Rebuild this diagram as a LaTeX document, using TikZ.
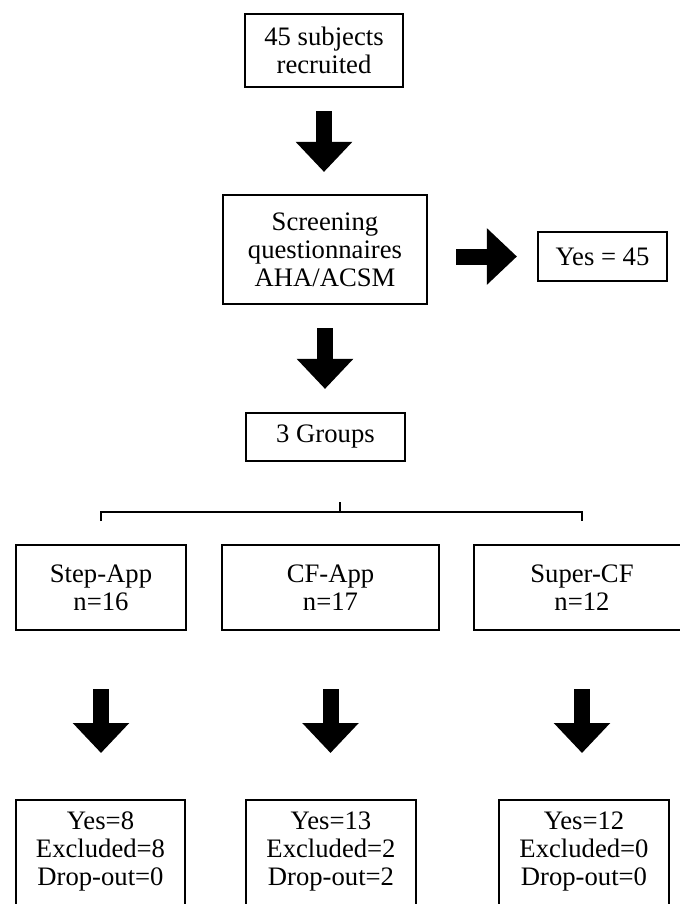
\documentclass[tikz,border=0pt]{standalone}
\usepackage{fontspec}
\setmainfont{Liberation Serif}
\usetikzlibrary{arrows.meta}
\begin{document}
\begin{tikzpicture}[x=0.75pt,y=-0.75pt,
    box/.style={draw, line width=1.6pt, align=center, inner sep=2pt, font=\fontsize{20}{21}\selectfont},
    fatarrow/.style={line width=12pt, -{Triangle[width=41pt,length=22.5pt]}},
    brace/.style={line width=1.1pt}]
    \useasboundingbox (0,0) rectangle (680,904);
    \clip (0,0) rectangle (680,904);
    % recruitment and screening
    \node[box, minimum width=118.5pt, minimum height=54.75pt] (recruit) at (324,50.5) {45 subjects\\recruited};
    \node[box, minimum width=153pt, minimum height=81.75pt] (screen) at (325,249.5) {Screening\\questionnaires\\AHA/ACSM};
    \node[box, minimum width=96.75pt, minimum height=36.75pt] (yes45) at (602.5,256.5) {Yes = 45};
    \node[box, minimum width=119.25pt, minimum height=36pt] (groups) at (325.5,437) {3 Groups};
    \draw[fatarrow, shorten <=17.25pt, shorten >=16.5pt] (recruit.south) -- (recruit.south |- screen.north);
    \draw[fatarrow, shorten <=21pt, shorten >=15pt] (screen.east |- yes45.west) -- (yes45.west);
    \draw[fatarrow, shorten <=17.25pt, shorten >=17.25pt] (screen.south) -- (screen.south |- groups.north);
    % the three groups
    \node[box, minimum width=127.5pt, minimum height=63.75pt] (step) at (101,587.5) {Step-App\\n=16};
    \node[box, minimum width=162.75pt, minimum height=63.75pt] (cfapp) at (330.5,587.5) {CF-App\\n=17};
    \node[box, minimum width=162pt, minimum height=63.75pt] (super) at (582,587.5) {Super-CF\\n=12};
    \coordinate (split) at (340,512);
    \draw[brace] (split) -- ++(0,-10);
    \draw[brace] (split -| step) ++(0,9) -- ++(0,-9) -- (split -| super) -- ++(0,9);
    % outcome of each group
    \node[box, anchor=north, minimum width=127pt, inner ysep=9pt] (res1) at (100.5,799) {Yes=8\\Excluded=8\\Drop-out=0\\~};
    \node[box, anchor=north, minimum width=127.5pt, inner ysep=9pt] (res2) at (331,799) {Yes=13\\Excluded=2\\Drop-out=2\\~};
    \node[box, anchor=north, minimum width=127.5pt, inner ysep=9pt] (res3) at (584,799) {Yes=12\\Excluded=0\\Drop-out=0\\~};
    \draw[fatarrow, shorten <=43.5pt, shorten >=34.5pt] (step.south) -- (step.south |- res1.north);
    \draw[fatarrow, shorten <=43.5pt, shorten >=34.5pt] (cfapp.south) -- (cfapp.south |- res2.north);
    \draw[fatarrow, shorten <=43.5pt, shorten >=34.5pt] (super.south) -- (super.south |- res3.north);
\end{tikzpicture}
\end{document}
